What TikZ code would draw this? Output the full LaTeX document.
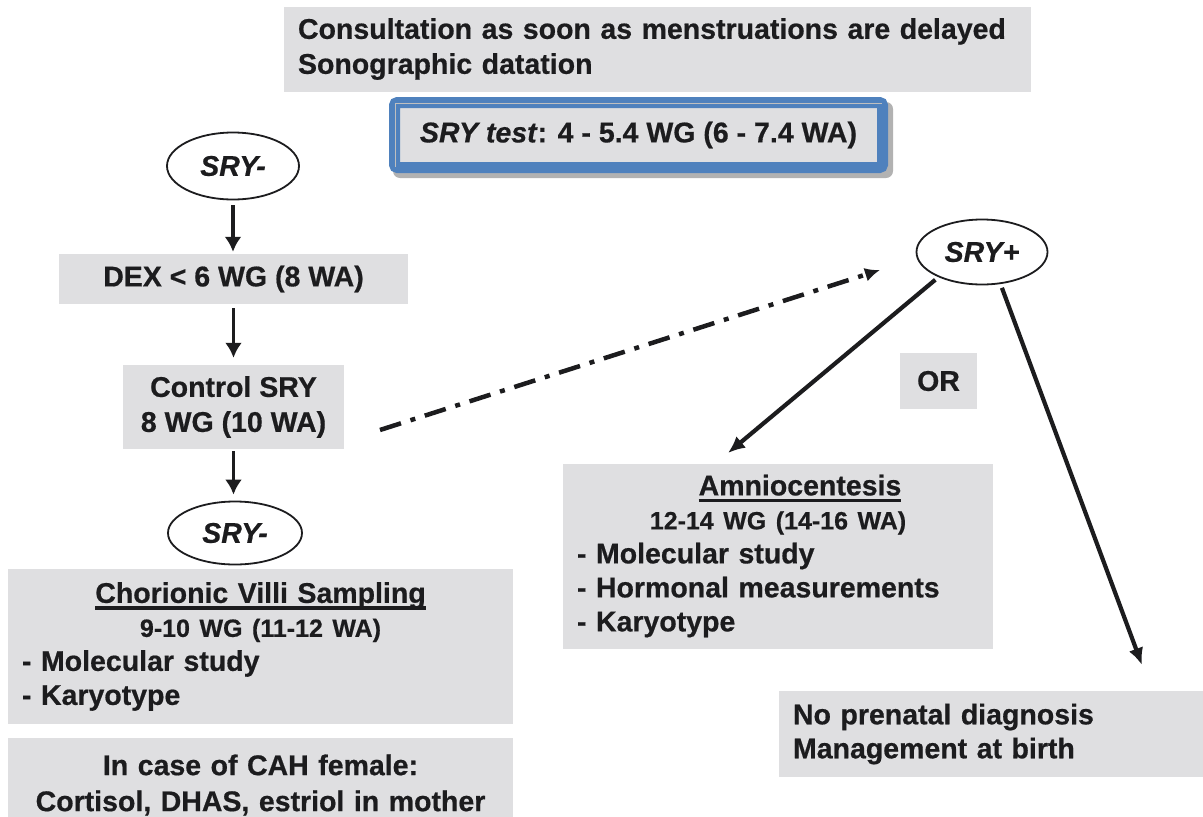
\documentclass[tikz,border=0pt]{standalone}
\usepackage{fontspec}
\setmainfont{Liberation Sans}[BoldFeatures={FakeBold=0.6},BoldItalicFeatures={FakeBold=0.6}]
\usetikzlibrary{arrows.meta,shapes.geometric}
\definecolor{boxgray}{RGB}{223,223,225}
\definecolor{sryblue}{RGB}{79,129,189}
\definecolor{ink}{RGB}{28,28,30}
\newcommand\mainfnt{\fontsize{28.5}{34}\selectfont\bfseries}
\newcommand\subfnt{\fontsize{25}{34}\selectfont\bfseries}
\newcommand\thickul[1]{\setbox0\hbox{#1}\rlap{\color{ink}\rule[-7pt]{\wd0}{3.5pt}}\box0}
\begin{document}
\begin{tikzpicture}[x=1pt,y=-1pt,
  graybox/.style={fill=boxgray, draw=none, inner xsep=14pt, inner ysep=0pt, text=ink, font=\mainfnt},
  oval/.style={ellipse, draw=ink, line width=1.8pt, fill=white, inner sep=0pt, text=ink, font=\mainfnt\itshape},
  arr/.style={draw=ink, line width=3.6pt, -{Latex[length=15pt,width=17pt]}},
  diag/.style={draw=ink, line width=4.2pt, -{Latex[length=17pt,width=15pt]}},
  dashdot/.style={draw=ink, line width=4.5pt, dash pattern=on 22pt off 10pt on 5pt off 10pt, -{Latex[length=15pt,width=14pt]}}
]
\useasboundingbox (0,0) rectangle (1203,817);
\clip (0,0) rectangle (1203,817);

% top box
\node[graybox, minimum width=747pt, minimum height=85pt, text width=719pt, align=left, font={\fontsize{28.5}{35}\selectfont\bfseries}] (top) at (657.5,49)
  {Consultation as soon as menstruations are delayed\\Sonographic datation};

% SRY test box with shadow
\fill[black, opacity=0.3, rounded corners=7pt] (393,102) rectangle (893,178);
\node[draw=sryblue, line width=11pt, fill=boxgray, rounded corners=3pt, minimum width=488pt, minimum height=65pt,
  inner sep=0pt, text=ink, font=\mainfnt] (srytest) at (638.5,135)
  {\textit{SRY test}: 4 - 5.4 WG (6 - 7.4 WA)};
\draw[black!25, line width=1.5pt] ([shift={(6.5,-6.5)}]srytest.south west) -- ([shift={(6.5,6.5)}]srytest.north west) -- ([shift={(-6.5,6.5)}]srytest.north east);

% left column
\node[oval, minimum width=132pt, minimum height=67pt] (sry1) at (233,166) {SRY-};
\node[graybox, minimum width=349pt, minimum height=50pt] (dex) at (233.5,279) {DEX < 6 WG (8 WA)};
\node[graybox, minimum width=221pt, minimum height=84pt, align=center, font={\fontsize{28.5}{35}\selectfont\bfseries}] (ctrl) at (233.5,407)
  {Control SRY\\8 WG (10 WA)};
\node[oval, minimum width=134pt, minimum height=63pt] (sry2) at (235,533) {SRY-};
\node[graybox, minimum width=505pt, minimum height=155pt, text width=477pt, align=left] (cvs) at (260.5,646.5)
  {\makebox[\linewidth][c]{\thickul{Chorionic Villi Sampling}}\\
   \makebox[\linewidth][c]{\subfnt 9-10 WG (11-12 WA)}\\
   - Molecular study\\
   - Karyotype};
\node[graybox, minimum width=505pt, minimum height=94pt, text width=477pt, align=center, font={\fontsize{28.5}{36}\selectfont\bfseries}] (cah) at (260.5,785)
  {In case of CAH female:\\Cortisol, DHAS, estriol in mother};

% right part
\node[oval, minimum width=131pt, minimum height=65pt] (sryp) at (982,252) {SRY+};
\node[graybox, minimum width=77pt, minimum height=56pt, inner xsep=0pt] (or) at (938.5,381) {OR};
\node[graybox, minimum width=430pt, minimum height=185pt, text width=402pt, align=left] (amnio) at (778,556)
  {\makebox[\linewidth][c]{\hspace*{44pt}\thickul{Amniocentesis}}\\
   \makebox[\linewidth][c]{\subfnt 12-14 WG (14-16 WA)}\\
   - Molecular study\\
   - Hormonal measurements\\
   - Karyotype};
\node[graybox, minimum width=424pt, minimum height=86pt, text width=396pt, align=left, font={\fontsize{28.5}{34}\selectfont\bfseries}] (nopre) at (991,734)
  {No prenatal diagnosis\\Management at birth};

% connectors
\draw[arr, shorten <=5pt, shorten >=2pt] (sry1.south) -- (sry1.south |- dex.north);
\draw[arr, shorten <=4pt, shorten >=7pt] (dex.south) -- (dex.south |- ctrl.north);
\draw[arr, shorten <=2pt, shorten >=6pt] (ctrl.south) -- (ctrl.south |- sry2.north);

\coordinate (dds) at (380,430);
\coordinate (dde) at (880,270);
\draw[dashdot] (dds) -- (dde);

\coordinate (amtip) at (728,453);
\coordinate (nptip) at (1142,665);
\draw[diag, shorten <=4pt] (sryp.210) -- (amtip);
\draw[diag, shorten <=4pt] (sryp.300) -- (nptip);
\end{tikzpicture}
\end{document}
